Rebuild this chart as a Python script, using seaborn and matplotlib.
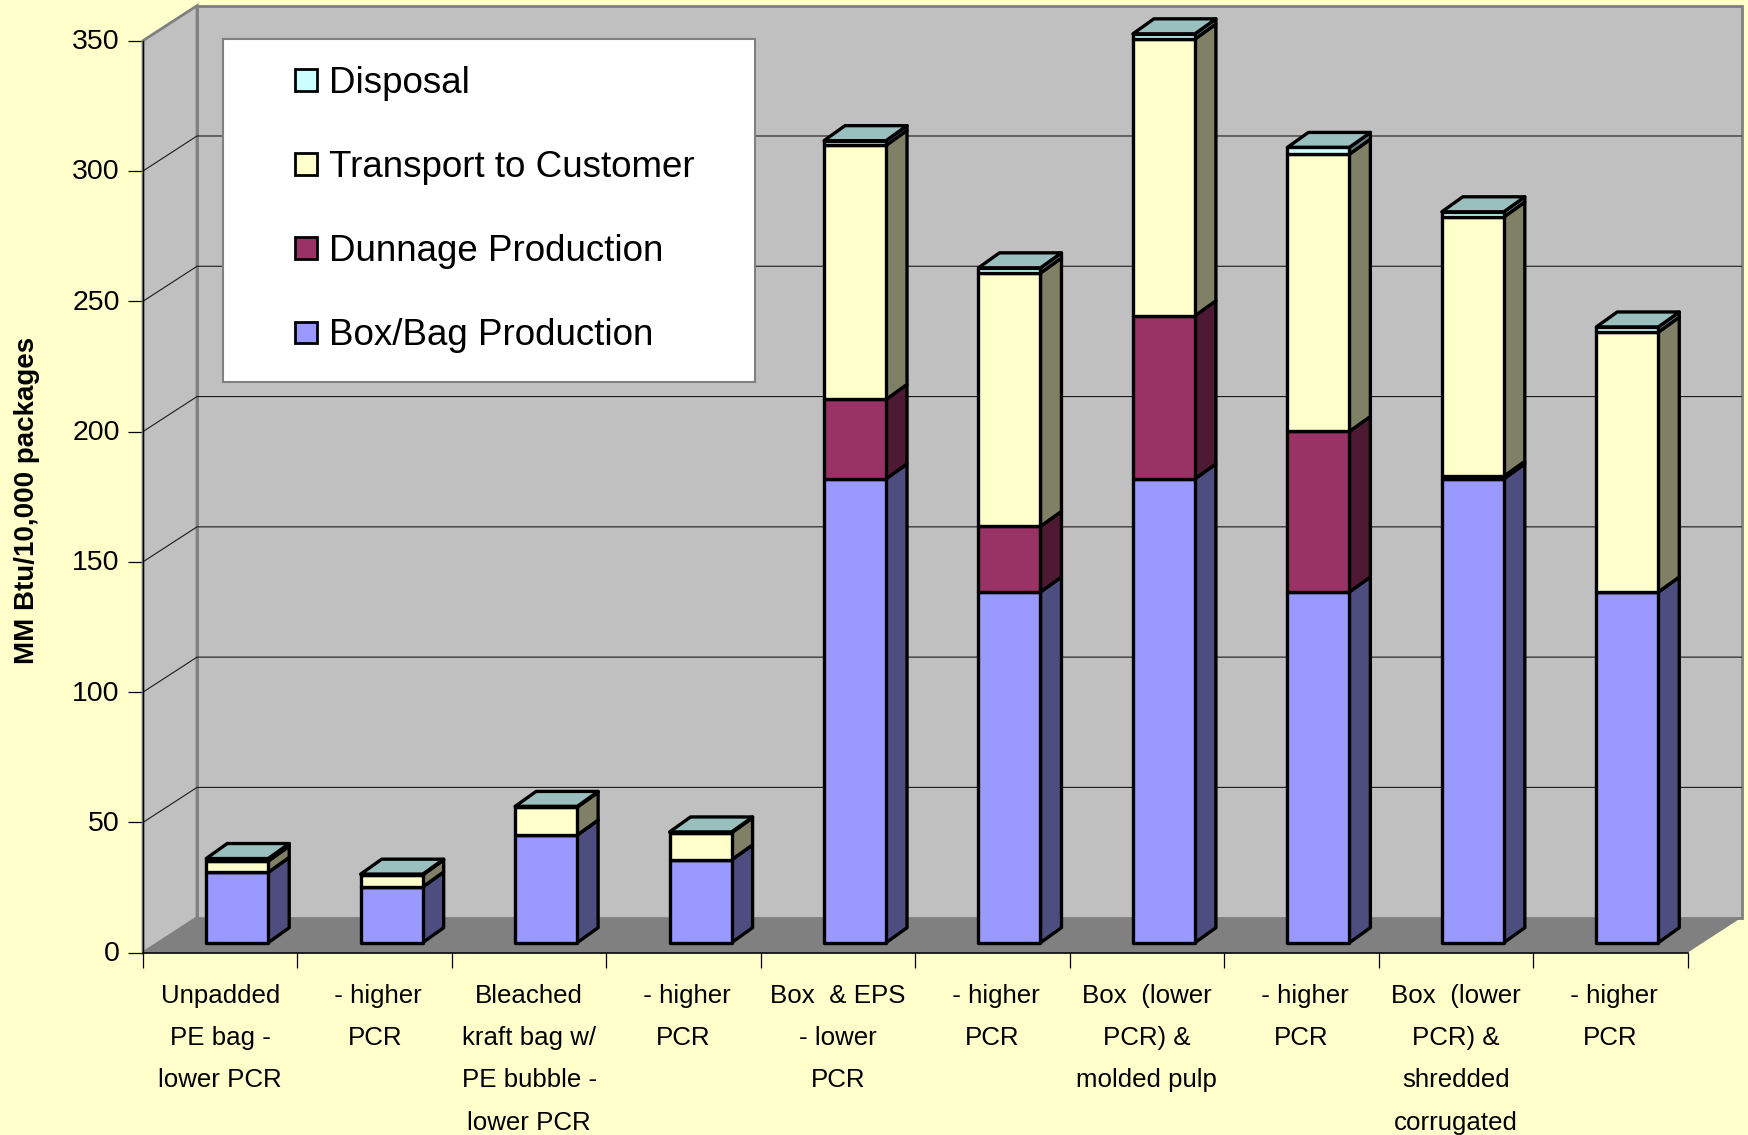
import matplotlib
matplotlib.use("Agg")
import matplotlib.pyplot as plt
import matplotlib.transforms as mtrans
from matplotlib.patches import Patch, Rectangle
import numpy as np
import seaborn as sns

categories = ["Unpadded\nPE bag -\nlower PCR", " - higher\nPCR",
              "Bleached\nkraft bag w/\nPE bubble -\nlower PCR", " - higher\nPCR",
              "Box  & EPS\n- lower\nPCR", " - higher\nPCR",
              "Box  (lower\nPCR) &\nmolded pulp", " - higher\nPCR",
              "Box  (lower\nPCR) &\nshredded\ncorrugated", " - higher\nPCR"]
series_names = ["Box/Bag Production", "Dunnage Production", "Transport to Customer", "Disposal"]
box = [27, 21.4, 41.3, 31.8, 178, 134.6, 178, 134.6, 178, 134.6]
dunnage = [0, 0, 0, 0, 30.5, 25.2, 62.6, 61.6, 1, 0]
transport = [4.3, 4.6, 10.7, 10.4, 97.5, 97.2, 106.2, 106.4, 99.5, 99.7]
disposal = [1.0, 0.3, 0.3, 0.3, 1.8, 2, 2, 2.6, 2, 2]
y_ticks = [0, 50, 100, 150, 200, 250, 300, 350]
y_label = "MM Btu/10,000 packages"

front_colors = ["#9999FF", "#993366", "#FFFFCC", "#CCFFFF"]
side_colors = ["#4D4D80", "#4D1933", "#808066", "#668080"]
top_color = "#99BFBF"
bg = "#FFFFCC"
wall = "#C0C0C0"
floor = "#808080"

sns.set_theme(style="white")
plt.rcParams["font.family"] = ["Liberation Sans", "DejaVu Sans"]

W, H = 1748, 1135
fig = plt.figure(figsize=(W / 100, H / 100), dpi=100, facecolor=bg)
L, R, T, B = 143, 1687.5, 40.7, 952.7
ax = fig.add_axes([L / W, 1 - B / H, (R - L) / W, (B - T) / H])
ax.patch.set_visible(False)

ppx = (R - L) / 10      # pixels per category
ppy = (B - T) / 350     # pixels per unit
wdx, wdy = 54 / ppx, 35 / ppy       # wall depth, data units
sx, sy = 17 / ppx, 10 / ppy         # bars stand in front of the back wall
bdx, bdy = 21 / ppx, 15 / ppy       # bar depth
bw = 62 / ppx
x0, x1, ymax = -0.5, 9.5, 350
edge_lw = 2.4

# walls and floor
ax.fill([x0, x0 + wdx, x1 + wdx, x1], [0, wdy, wdy, 0], color=floor, lw=0, clip_on=False, zorder=1)
ax.fill([x0 + wdx, x1 + wdx, x1 + wdx, x0 + wdx], [wdy, wdy, ymax + wdy, ymax + wdy],
        facecolor=wall, edgecolor="#808080", lw=2, clip_on=False, zorder=1)
ax.fill([x0, x0 + wdx, x0 + wdx, x0], [0, wdy, ymax + wdy, ymax],
        facecolor=wall, edgecolor="#808080", lw=2, clip_on=False, zorder=1)
for v in y_ticks[1:-1]:
    ax.plot([x0, x0 + wdx, x1 + wdx], [v, v + wdy, v + wdy], color="#1a1a1a", lw=0.8,
            clip_on=False, zorder=2)

# bars
pos = list(range(len(categories)))
values = [box, dunnage, transport, disposal]
bottom = np.zeros(len(pos))
shift = mtrans.Affine2D().translate(sx, sy) + ax.transData
for name, vals, fc, sc in zip(series_names, values, front_colors, side_colors):
    vals = np.asarray(vals, float)
    n_before = len(ax.patches)
    sns.barplot(x=pos, y=vals, bottom=bottom, color=fc, saturation=1, width=bw,
                edgecolor="black", linewidth=edge_lw, ax=ax, zorder=5)
    for p in ax.patches[n_before:]:
        p.set_transform(shift)
        p.set_clip_on(False)
        p.set_joinstyle("round")
    for i in pos:
        xr = i + sx + bw / 2
        y0, y1 = bottom[i] + sy, bottom[i] + vals[i] + sy
        ax.fill([xr, xr, xr + bdx, xr + bdx], [y0, y1, y1 + bdy, y0 + bdy],
                facecolor=sc, edgecolor="black", lw=edge_lw, clip_on=False, zorder=4, joinstyle="round")
    bottom = bottom + vals
for i in pos:
    xl = i + sx - bw / 2
    y = bottom[i] + sy
    ax.fill([xl, xl + bw, xl + bw + bdx, xl + bdx], [y, y, y + bdy, y + bdy],
            facecolor=top_color, edgecolor="black", lw=edge_lw, clip_on=False, zorder=4, joinstyle="round")

# axes
ax.set_xlim(x0, x1)
ax.set_ylim(0, ymax)
sns.despine(ax=ax, top=True, right=True)
for s in ("left", "bottom"):
    ax.spines[s].set_color("black")
    ax.spines[s].set_zorder(3)
ax.spines["left"].set_linewidth(1.0)
ax.spines["bottom"].set_linewidth(1.2)
ax.set_xlabel("")
ax.set_yticks(y_ticks)
ax.set_yticklabels([str(v) for v in y_ticks])
ax.tick_params(axis="y", length=10.8, width=0.9, color="black", pad=6, labelsize=20.5, labelcolor="black", left=True)
for lab in ax.get_yticklabels():
    lab.set_transform(lab.get_transform() + mtrans.Affine2D().translate(0, 1.5))
ax.set_xticks(np.arange(x0, x1 + 0.5, 1))
ax.set_xticklabels([])
ax.tick_params(axis="x", which="major", length=10.8, width=0.9, color="black", bottom=True)
ax.set_xticks(pos, minor=True)
ax.set_xticklabels(categories, minor=True, fontsize=18.6, color="black", linespacing=1.96, va="top")
ax.tick_params(axis="x", which="minor", length=0, pad=22.5)
ax.set_ylabel(y_label, fontsize=20, fontweight="bold", color="black")
ax.yaxis.set_label_coords((40.5 - L) / (R - L), (B - 500) / (B - T))

# legend
fig.add_artist(Rectangle((223 / W, 1 - 382 / H), 532 / W, 343.3 / H, transform=fig.transFigure,
                         facecolor="white", edgecolor="#808080", lw=1.5, zorder=6))
handles = [Patch(facecolor=c, edgecolor="black", lw=2, label=n)
           for c, n in zip(front_colors[::-1], series_names[::-1])]
leg = fig.legend(handles=handles, loc="upper left", bbox_to_anchor=(295 / W, 1 - 66 / H),
                 bbox_transform=fig.transFigure, frameon=False, borderpad=0, borderaxespad=0,
                 fontsize=26.5, labelspacing=1.334, handlelength=0.6, handleheight=0.52,
                 handletextpad=0.33, labelcolor="black")
leg.set_zorder(7)

fig.savefig("out.png", dpi=100, facecolor=bg)
